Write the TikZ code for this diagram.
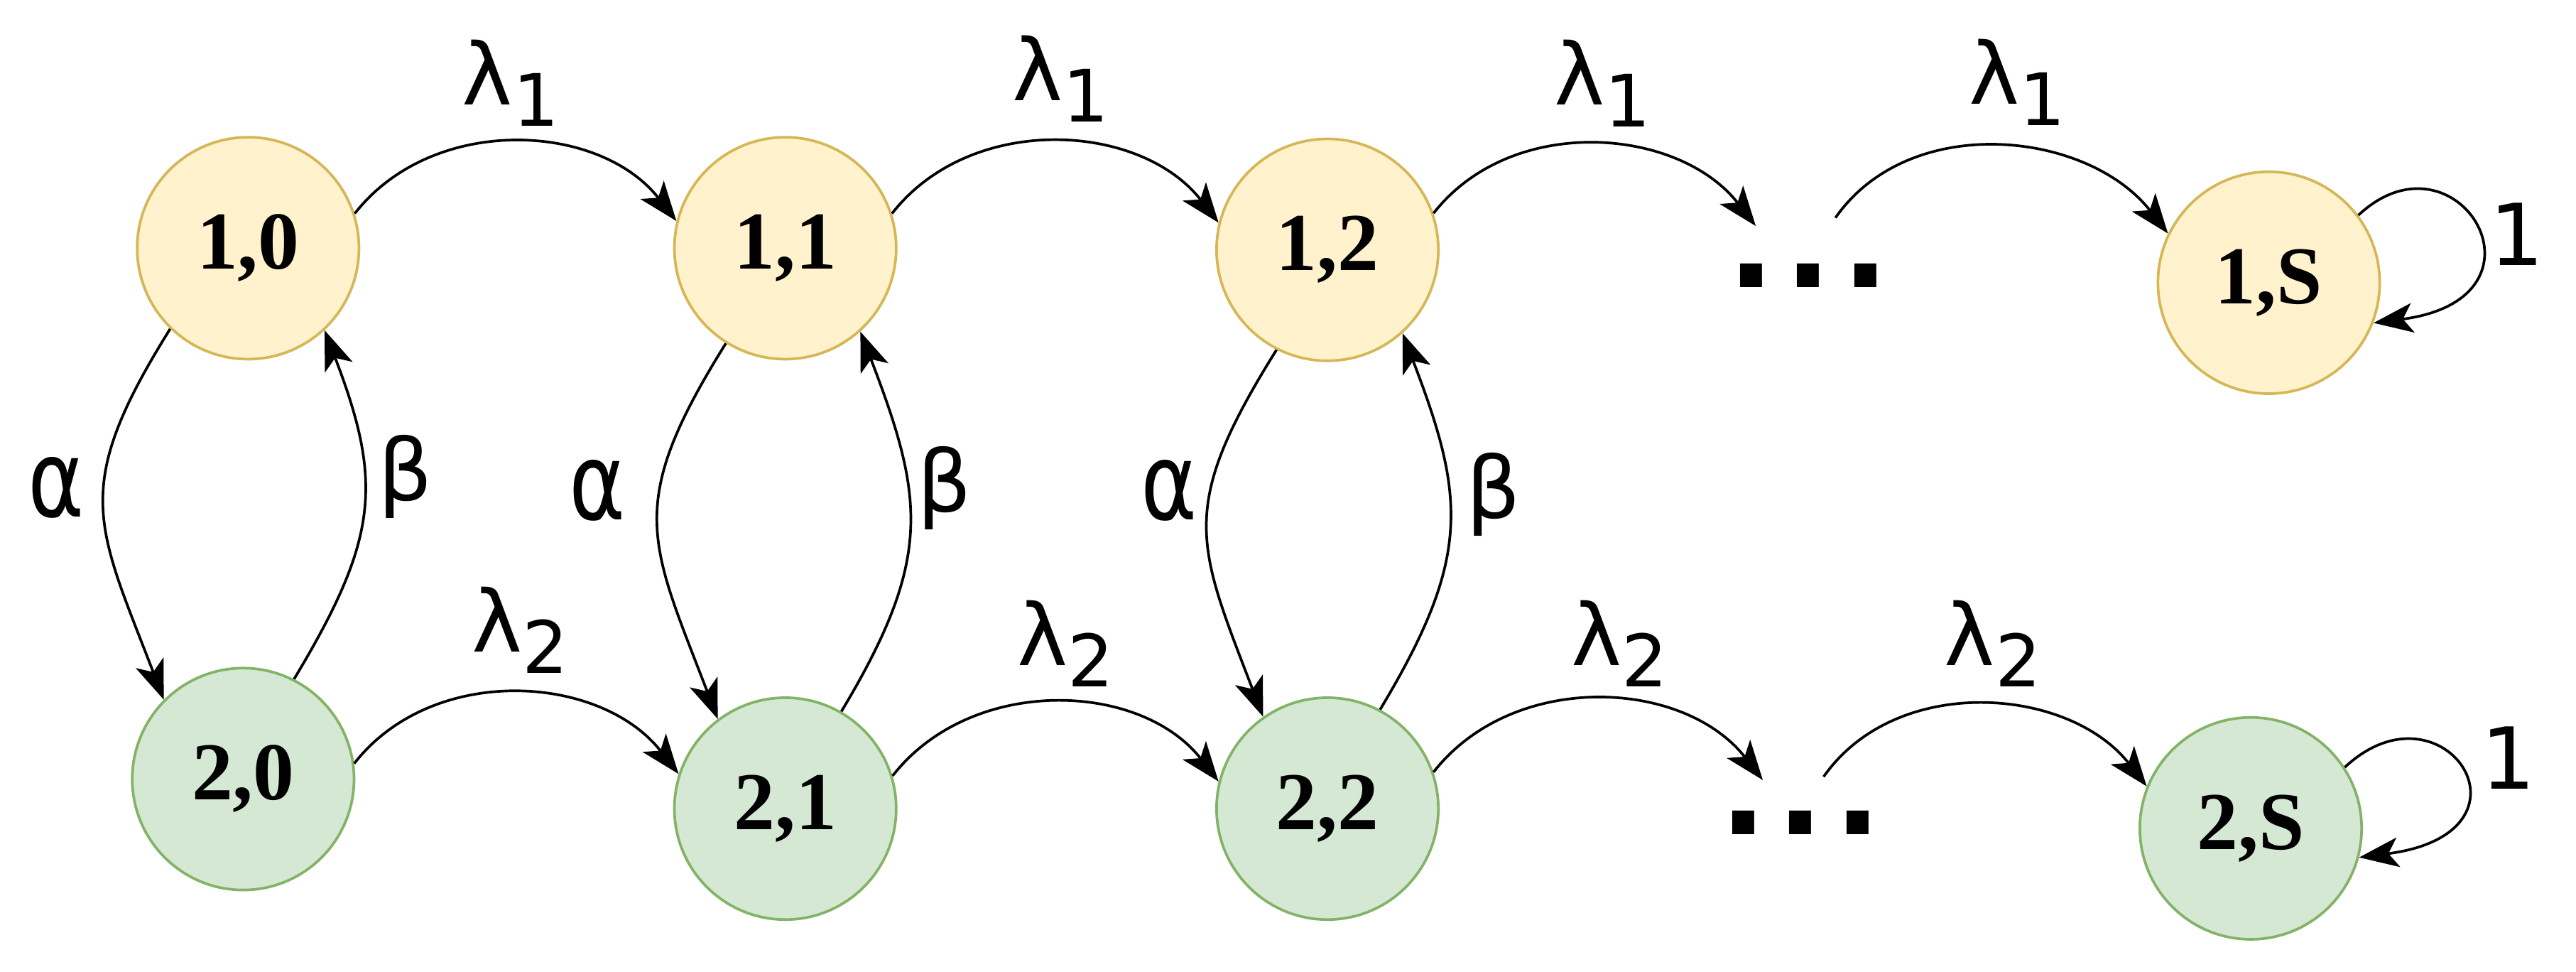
\documentclass[tikz,border=0pt]{standalone}
\usepackage{fontspec}
\usepackage{graphicx}
\setmainfont{Liberation Serif}
\newfontfamily\lblfont{DejaVu Sans}
\usetikzlibrary{arrows.meta,calc}
\definecolor{yfill}{HTML}{FFF2CC}
\definecolor{ydraw}{HTML}{D6B656}
\definecolor{gfill}{HTML}{D5E8D4}
\definecolor{gdraw}{HTML}{82B366}
\begin{document}
\begin{tikzpicture}[x=0.5pt,y=0.5pt,
  state/.style={circle, minimum size=67.5pt, inner sep=0pt, line width=0.8pt,
    font=\fontsize{25}{29}\selectfont\bfseries},
  topstate/.style={state, fill=yfill, draw=ydraw},
  botstate/.style={state, fill=gfill, draw=gdraw},
  edge/.style={line width=0.8pt, -{Stealth[length=12pt,width=9pt,inset=3pt]}},
  lbl/.style={inner sep=0pt, font=\lblfont\fontsize{26}{30}\selectfont},
  dotstyle/.style={inner sep=0pt, font=\lblfont\bfseries\fontsize{38}{42}\selectfont}
]
\useasboundingbox (0,0) rectangle (1568,-591);

% states
\node[topstate] (n10) at (151,-151) {1,0};
\node[topstate] (n11) at (478,-151) {1,1};
\node[topstate] (n12) at (808,-152) {1,2};
\node[topstate] (n1S) at (1381,-172) {1,S};
\node[botstate] (n20) at (148,-474) {2,0};
\node[botstate] (n21) at (478,-492) {2,1};
\node[botstate] (n22) at (808,-492) {2,2};
\node[botstate] (n2S) at (1370,-504) {2,S};

% ellipses
\node[dotstyle] (d1) at (1100.7,-167.5) {.\kern3pt.\kern3pt.};
\node[dotstyle] (d2) at (1096,-500.6) {.\kern3pt.\kern3pt.};
\coordinate (d1in) at ($(d1)+(-32,30)$);
\coordinate (d1out) at ($(d1)+(16.5,35)$);
\coordinate (d2in) at ($(d2)+(-23,26)$);
\coordinate (d2out) at ($(d2)+(14,28)$);

% lambda_1 transitions
\draw[edge] (n10.18) to[out=52,in=128] (n11.166);
\draw[edge] (n11.18) to[out=52,in=128] (n12.166);
\draw[edge] (n12.19) to[out=52,in=128] (d1in);
\draw[edge] (d1out) to[out=55,in=128] (n1S.154);

% lambda_2 transitions
\draw[edge] (n20.8) to[out=52,in=128] (n21.162);
\draw[edge] (n21.17) to[out=52,in=128] (n22.166);
\draw[edge] (n22.19) to[out=52,in=128] (d2in);
\draw[edge] (d2out) to[out=55,in=128] (n2S.158);

% alpha / beta transitions
\draw[edge] (n10.226) to[out=238,in=111,looseness=1.3] (n20.135);
\draw[edge] (n20.63) to[out=59,in=-69,looseness=1.2] (n10.313);
\draw[edge] (n11.238) to[out=238,in=111,looseness=1.3] (n21.127);
\draw[edge] (n21.60) to[out=59,in=-69,looseness=1.2] (n11.312);
\draw[edge] (n12.243) to[out=238,in=111,looseness=1.3] (n22.125);
\draw[edge] (n22.62) to[out=59,in=-69,looseness=1.2] (n12.312);

% self loops
\draw[edge] (n1S.37) .. controls ($(n1S.37)+(60,56)$) and ($(n1S.-21)+(115,15)$) .. (n1S.-21);
\draw[edge] (n2S.33) .. controls ($(n2S.33)+(60,56)$) and ($(n2S.-15)+(115,15)$) .. (n2S.-15);

% labels
\node[lbl] (l1a) at (310.8,-50.3) {λ\raisebox{-6.5pt}{\fontsize{22}{26}\selectfont 1}};
\node[lbl] (l1b) at (645.6,-48) {λ\raisebox{-6.5pt}{\fontsize{22}{26}\selectfont 1}};
\node[lbl] (l1c) at (975.5,-50.7) {λ\raisebox{-6.5pt}{\fontsize{22}{26}\selectfont 1}};
\node[lbl] (l1d) at (1228,-50) {λ\raisebox{-6.5pt}{\fontsize{22}{26}\selectfont 1}};
\node[lbl] (l2a) at (316.5,-383.3) {λ\raisebox{-6.5pt}{\fontsize{22}{26}\selectfont 2}};
\node[lbl] (l2b) at (648.6,-391.7) {λ\raisebox{-6.5pt}{\fontsize{22}{26}\selectfont 2}};
\node[lbl] (l2c) at (986,-391.7) {λ\raisebox{-6.5pt}{\fontsize{22}{26}\selectfont 2}};
\node[lbl] (l2d) at (1213,-391.7) {λ\raisebox{-6.5pt}{\fontsize{22}{26}\selectfont 2}};
\node[lbl] (la1) at (34.3,-296.7) {\scalebox{1}[1.25]{α}};
\node[lbl] (la2) at (363.5,-298.5) {\scalebox{1}[1.25]{α}};
\node[lbl] (la3) at (711.6,-298.5) {\scalebox{1}[1.25]{α}};
\node[lbl] (lb1) at (246.8,-290) {β};
\node[lbl] (lb2) at (575,-297) {β};
\node[lbl] (lb3) at (909,-301) {β};
\node[lbl] (ls1) at (1532,-142.5) {1};
\node[lbl] (ls2) at (1527,-461) {1};
\end{tikzpicture}
\end{document}
